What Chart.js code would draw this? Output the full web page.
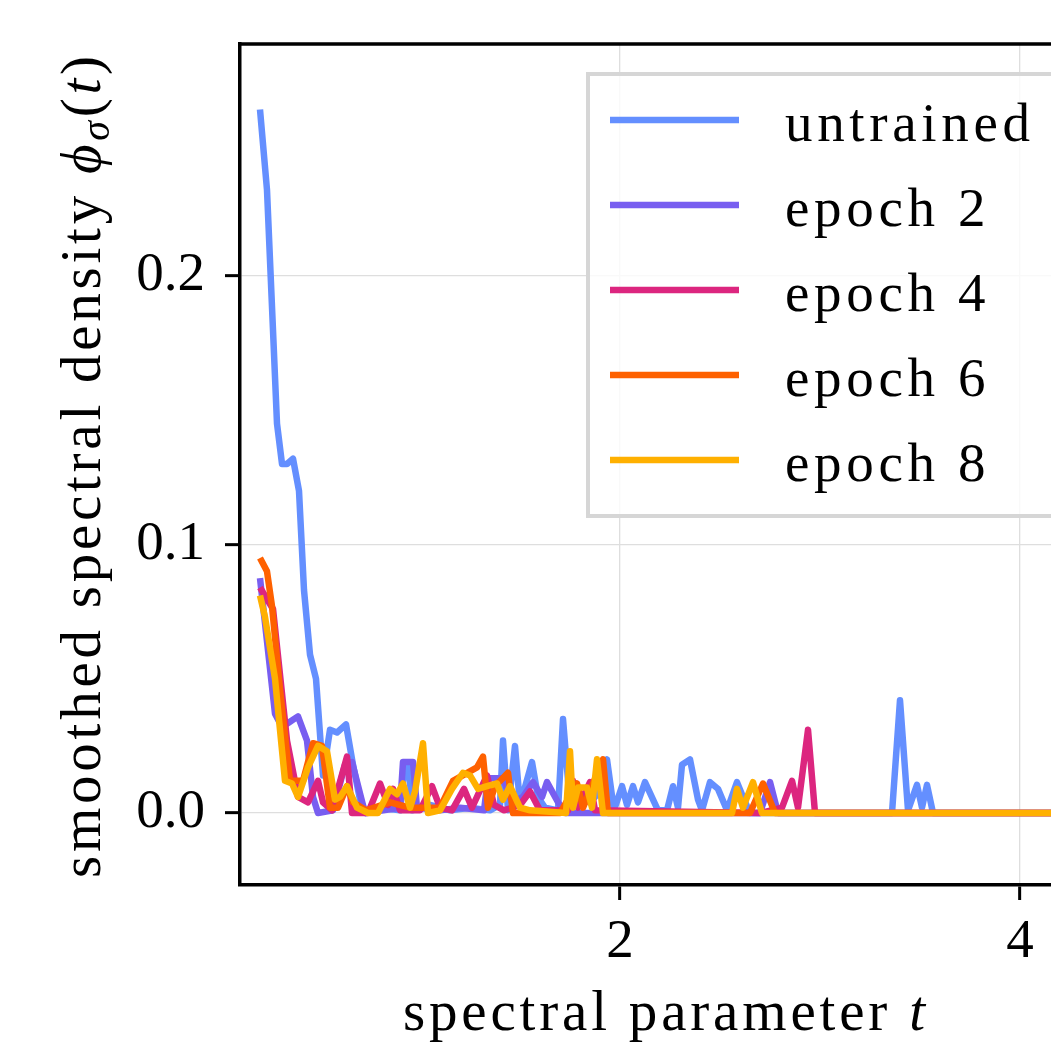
<!DOCTYPE html>
<html><head><meta charset="utf-8">
<script src="https://cdn.jsdelivr.net/npm/chart.js@4.4.0/dist/chart.umd.min.js"></script>
<style>html,body{margin:0;padding:0;overflow:hidden;background:#fff;width:1051px;height:1042px}canvas{display:block}
.fl{position:absolute;left:-9999px;top:0;font-family:"Liberation Serif";font-size:55px}</style>
</head><body>
<span class="fl">smoothed 0.2</span><span class="fl" style="font-style:italic">ϕσ t</span>
<canvas id="c" width="1150" height="1042"></canvas>
<script>
const seriesLabels = ['untrained', 'epoch 2', 'epoch 4', 'epoch 6', 'epoch 8'];
const seriesColors = ['#648FFF', '#785EF0', '#DC267F', '#FE6100', '#FFB000'];
const xTicks = [2, 4];
const yTicks = [0, 0.1, 0.2];

// [t, phi] pairs
const untrained = [[0.200,0.262],[0.235,0.232],[0.285,0.145],[0.310,0.130],[0.335,0.130],[0.365,0.132],[0.395,0.120],[0.420,0.083],[0.450,0.059],[0.480,0.050],[0.515,0.014],[0.550,0.031],[0.585,0.030],[0.630,0.033],[0.665,0.018],[0.700,0.005],[0.730,0.000],[0.800,0.002],[0.900,0.001],[0.925,0.018],[0.945,0.017],[0.960,0.001],[1.050,0.003],[1.150,0.001],[1.250,0.002],[1.350,0.001],[1.400,0.003],[1.415,0.027],[1.440,0.001],[1.475,0.025],[1.500,0.003],[1.560,0.019],[1.590,0.006],[1.625,0.002],[1.690,0.001],[1.715,0.035],[1.750,0.003],[1.800,0.006],[1.850,0.004],[1.900,0.008],[1.935,0.020],[1.970,0.001],[2.010,0.010],[2.035,0.003],[2.065,0.010],[2.090,0.004],[2.125,0.0115],[2.190,0.001],[2.235,0.001],[2.265,0.010],[2.290,0.002],[2.310,0.018],[2.350,0.020],[2.390,0.005],[2.410,0.001],[2.450,0.0115],[2.490,0.009],[2.535,0.001],[2.585,0.0115],[2.615,0.006],[2.650,0.000],[3.360,0.000],[3.400,0.042],[3.440,0.001],[3.485,0.0105],[3.510,0.002],[3.535,0.0105],[3.565,0.000],[4.300,0.000]];
const epoch2 = [[0.200,0.0875],[0.275,0.037],[0.310,0.032],[0.350,0.034],[0.390,0.036],[0.435,0.027],[0.465,0.006],[0.490,0.000],[0.565,0.001],[0.625,0.018],[0.660,0.019],[0.725,0.000],[0.900,0.002],[0.915,0.019],[0.965,0.019],[0.985,0.002],[1.100,0.001],[1.200,0.002],[1.320,0.001],[1.340,0.013],[1.415,0.013],[1.460,0.004],[1.515,0.006],[1.565,0.0115],[1.610,0.006],[1.635,0.0115],[1.690,0.004],[1.725,0.000],[2.700,0.000],[2.750,0.0115],[2.790,0.000],[4.300,0.000]];
const epoch4 = [[0.200,0.084],[0.265,0.076],[0.335,0.027],[0.390,0.006],[0.440,0.004],[0.490,0.012],[0.515,0.004],[0.560,0.001],[0.635,0.021],[0.660,0.000],[0.740,0.000],[0.800,0.011],[0.840,0.003],[0.865,0.009],[0.900,0.001],[1.000,0.001],[1.060,0.010],[1.100,0.002],[1.160,0.001],[1.220,0.009],[1.260,0.002],[1.335,0.014],[1.370,0.003],[1.420,0.001],[1.500,0.003],[1.550,0.008],[1.600,0.001],[1.740,0.001],[1.765,0.012],[1.790,0.002],[1.850,0.0115],[1.875,0.001],[2.700,0.000],[2.810,0.002],[2.860,0.012],[2.890,0.002],[2.940,0.031],[2.975,0.000],[4.300,0.000]];
const epoch6 = [[0.200,0.095],[0.235,0.090],[0.260,0.077],[0.300,0.046],[0.350,0.012],[0.415,0.012],[0.465,0.026],[0.510,0.025],[0.550,0.002],[0.590,0.002],[0.635,0.010],[0.665,0.004],[0.730,0.001],[0.850,0.004],[0.950,0.002],[1.100,0.002],[1.165,0.012],[1.285,0.017],[1.315,0.021],[1.340,0.002],[1.375,0.010],[1.440,0.015],[1.465,0.000],[1.700,0.000],[1.785,0.011],[1.815,0.002],[1.915,0.020],[1.940,0.000],[2.650,0.000],[2.715,0.011],[2.775,0.000],[4.300,0.000]];
const epoch8 = [[0.200,0.081],[0.225,0.073],[0.275,0.050],[0.325,0.012],[0.360,0.011],[0.390,0.006],[0.440,0.017],[0.490,0.025],[0.535,0.023],[0.575,0.005],[0.600,0.006],[0.635,0.010],[0.685,0.002],[0.740,0.000],[0.790,0.000],[0.850,0.009],[0.885,0.007],[0.915,0.011],[0.950,0.002],[0.975,0.008],[1.015,0.026],[1.040,0.000],[1.100,0.001],[1.160,0.009],[1.215,0.015],[1.250,0.014],[1.290,0.009],[1.335,0.010],[1.385,0.011],[1.415,0.005],[1.450,0.010],[1.500,0.002],[1.550,0.001],[1.730,0.000],[1.750,0.023],[1.765,0.002],[1.790,0.0095],[1.835,0.0095],[1.860,0.002],[1.885,0.020],[1.915,0.000],[2.560,0.000],[2.585,0.009],[2.615,0.002],[2.665,0.0115],[2.710,0.000],[4.300,0.000]];
const seriesData = [untrained, epoch2, epoch4, epoch6, epoch8];

const FONT = '"Liberation Serif", serif';
const FS = 55;
const W = 1150, H = 1042;
const AREA = {left: 240, right: 1086, top: 44, bottom: 885};

// draws text segments spread to a target width, char by char
function drawRich(ctx, segs, targetW, cx, cy, angle, align) {
  ctx.save();
  ctx.translate(cx, cy);
  ctx.rotate(angle);
  ctx.textAlign = 'left';
  ctx.textBaseline = 'alphabetic';
  ctx.fillStyle = '#000';
  let natural = 0, n = 0;
  segs.forEach(s => {
    ctx.font = (s.italic ? 'italic ' : '') + s.size + 'px ' + FONT;
    for (const ch of s.text) { natural += ctx.measureText(ch).width; n++; }
  });
  const ls = Math.max(0, (targetW - natural) / Math.max(1, n - 1));
  let x = align === 'left' ? 0 : -targetW / 2;
  segs.forEach(s => {
    ctx.font = (s.italic ? 'italic ' : '') + s.size + 'px ' + FONT;
    for (const ch of s.text) {
      ctx.fillText(ch, x, s.dy || 0);
      x += ctx.measureText(ch).width + ls;
    }
  });
  ctx.restore();
}

const framePlugin = {
  id: 'frame',
  afterDraw(chart) {
    const ctx = chart.ctx;
    const a = chart.chartArea;
    ctx.save();
    ctx.strokeStyle = '#000';
    ctx.lineWidth = 3.5;
    ctx.beginPath();
    ctx.moveTo(a.left - 1.75, a.top);
    ctx.lineTo(a.right, a.top);
    ctx.lineTo(a.right, a.bottom);
    ctx.stroke();

    // legend
    const lx = 588, ly = 74, lw = 500, lh = 442;
    ctx.fillStyle = 'rgba(255,255,255,0.8)';
    ctx.fillRect(lx, ly, lw, lh);
    ctx.strokeStyle = '#d6d6d6';
    ctx.lineWidth = 4;
    ctx.strokeRect(lx, ly, lw, lh);
    ctx.restore();
    ctx.font = FS + 'px ' + FONT;
    let nat = 0;
    for (const ch of 'untrained') nat += ctx.measureText(ch).width;
    const ls = Math.max(0, (245 - nat) / 8);
    seriesLabels.forEach((lab, i) => {
      const y = 120 + i * 85;
      ctx.save();
      ctx.strokeStyle = seriesColors[i];
      ctx.lineWidth = 6.5;
      ctx.beginPath();
      ctx.moveTo(610, y);
      ctx.lineTo(739, y);
      ctx.stroke();
      ctx.restore();
      let w = 0;
      ctx.font = FS + 'px ' + FONT;
      for (const ch of lab) w += ctx.measureText(ch).width;
      drawRich(ctx, [{text: lab, size: FS}], w + ls * (lab.length - 1), 785, y + 21, 0, 'left');
    });

    // axis titles
    drawRich(ctx, [
      {text: 'spectral parameter ', size: 57},
      {text: 't', size: 57, italic: true}
    ], 522, 664, 1030, 0);
    drawRich(ctx, [
      {text: 'smoothed spectral density ', size: 57},
      {text: 'ϕ', size: 57, italic: true},
      {text: 'σ', size: 40, italic: true, dy: 9},
      {text: '(', size: 57},
      {text: 't', size: 57, italic: true},
      {text: ')', size: 57}
    ], 822, 100, 467, -Math.PI / 2);
  }
};

function build() {
  const datasets = seriesData.map((d, i) => ({
    label: seriesLabels[i],
    data: d.map(p => ({x: p[0], y: p[1]})),
    borderColor: seriesColors[i],
    backgroundColor: seriesColors[i],
    borderWidth: 6.5,
    pointRadius: 0,
    tension: 0,
    fill: false,
    borderJoinStyle: 'round',
    order: seriesData.length - 1 - i
  }));

  new Chart(document.getElementById('c').getContext('2d'), {
    type: 'line',
    data: {datasets},
    options: {
      responsive: false,
      animation: false,
      devicePixelRatio: 1,
      layout: {padding: {left: 0, top: AREA.top, right: W - AREA.right, bottom: 0}},
      plugins: {legend: {display: false}, tooltip: {enabled: false}},
      scales: {
        x: {
          type: 'linear', min: 0.1, max: 4.33,
          afterFit(s) { s.height = H - AREA.bottom; s.paddingLeft = 0; s.paddingRight = 0; s.paddingTop = 0; s.paddingBottom = 0; },
          afterBuildTicks(s) { s.ticks = xTicks.map(v => ({value: v})); },
          grid: {color: '#dedede', lineWidth: 1.3, tickColor: '#000', tickWidth: 3, tickLength: 15, drawTicks: true},
          border: {color: '#000', width: 3.5},
          ticks: {font: {family: FONT, size: FS}, color: '#000', padding: 10, maxRotation: 0, autoSkip: false, callback: v => String(v)}
        },
        y: {
          type: 'linear', min: -0.0268, max: 0.2864,
          afterFit(s) { s.width = AREA.left; s.paddingLeft = 0; s.paddingRight = 0; s.paddingTop = 0; s.paddingBottom = 0; },
          afterBuildTicks(s) { s.ticks = yTicks.map(v => ({value: v})); },
          grid: {color: '#dedede', lineWidth: 1.3, tickColor: '#000', tickWidth: 3, tickLength: 15, drawTicks: true},
          border: {color: '#000', width: 3.5},
          ticks: {font: {family: FONT, size: FS}, color: '#000', padding: 20, autoSkip: false, callback: v => Number(v).toFixed(1)}
        }
      }
    },
    plugins: [framePlugin]
  });
}

let built = false;
function go() { if (!built) { built = true; build(); } }
if (document.fonts && document.fonts.load) {
  Promise.all([
    document.fonts.load('55px "Liberation Serif"'),
    document.fonts.load('italic 55px "Liberation Serif"', 'ϕσt')
  ]).then(go, go);
  setTimeout(go, 1500);
} else {
  go();
}
</script>
</body></html>
